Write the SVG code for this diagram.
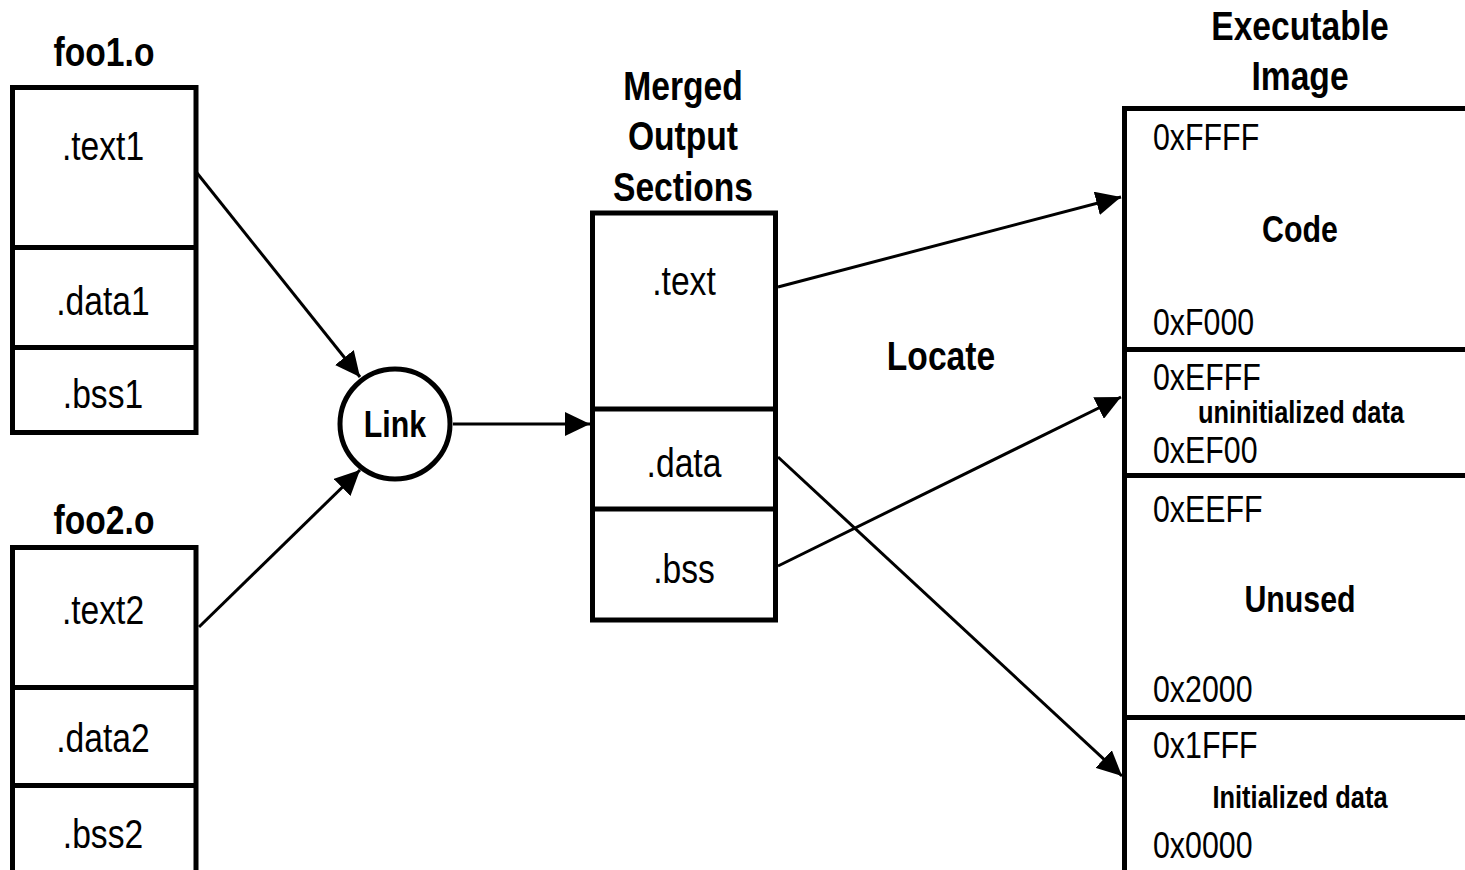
<svg xmlns="http://www.w3.org/2000/svg" width="1465" height="870" viewBox="0 0 1465 870">
<style>
  .box{fill:#fff;stroke:#000;stroke-width:5}
  .div{stroke:#000;stroke-width:5}
  .t{font-family:"Liberation Sans",Arial,sans-serif;fill:#000}
  .sec{font-size:41px;text-anchor:middle}
  .ttl{font-size:41px;font-weight:bold;text-anchor:middle}
  .addr{font-size:37px}
  .lbl{font-size:37px;font-weight:bold;text-anchor:middle}
  .sm{font-size:31px;font-weight:bold;text-anchor:middle}
  .conn{stroke:#000;stroke-width:3;fill:none;marker-end:url(#ah)}
</style>
<defs>
  <marker id="ah" markerUnits="userSpaceOnUse" markerWidth="26" markerHeight="24" refX="25" refY="12" orient="auto">
    <path d="M0,0 L25,12 L0,24 z" fill="#000"/>
  </marker>
</defs>
<rect width="1465" height="870" fill="#fff"/>

<g id="connectors">
  <line class="conn" x1="193" y1="168" x2="360" y2="377"/>
  <line class="conn" x1="199" y1="627" x2="360" y2="470"/>
  <line class="conn" x1="453" y1="424" x2="590" y2="424"/>
  <line class="conn" x1="778" y1="287" x2="1121" y2="197"/>
  <line class="conn" x1="778" y1="566" x2="1121" y2="397"/>
  <line class="conn" x1="778" y1="457" x2="1122" y2="776"/>
</g>

<g id="foo1">
  <text class="t ttl" transform="translate(104,66) scale(0.82,1)">foo1.o</text>
  <rect class="box" x="12.5" y="87.5" width="183.5" height="345"/>
  <line class="div" x1="12.5" y1="247.5" x2="196" y2="247.5"/>
  <line class="div" x1="12.5" y1="347.5" x2="196" y2="347.5"/>
  <text class="t sec" transform="translate(103,160) scale(0.82,1)">.text1</text>
  <text class="t sec" transform="translate(103,315) scale(0.82,1)">.data1</text>
  <text class="t sec" transform="translate(103,408) scale(0.82,1)">.bss1</text>
</g>

<g id="foo2">
  <text class="t ttl" transform="translate(104,534) scale(0.82,1)">foo2.o</text>
  <rect class="box" x="12.5" y="547.5" width="183.5" height="400"/>
  <line class="div" x1="12.5" y1="687.5" x2="196" y2="687.5"/>
  <line class="div" x1="12.5" y1="785.5" x2="196" y2="785.5"/>
  <text class="t sec" transform="translate(103,624) scale(0.82,1)">.text2</text>
  <text class="t sec" transform="translate(103,752) scale(0.82,1)">.data2</text>
  <text class="t sec" transform="translate(103,848) scale(0.82,1)">.bss2</text>
</g>

<g id="link">
  <circle cx="395" cy="424" r="55" fill="#fff" stroke="#000" stroke-width="5"/>
  <text class="t lbl" transform="translate(395,437) scale(0.82,1)">Link</text>
</g>

<g id="merged">
  <text class="t ttl" transform="translate(683,100) scale(0.82,1)">Merged</text>
  <text class="t ttl" transform="translate(683,150) scale(0.82,1)">Output</text>
  <text class="t ttl" transform="translate(683,201) scale(0.82,1)">Sections</text>
  <rect class="box" x="592.5" y="213" width="183" height="407"/>
  <line class="div" x1="592.5" y1="409" x2="775.5" y2="409"/>
  <line class="div" x1="592.5" y1="509" x2="775.5" y2="509"/>
  <text class="t sec" transform="translate(684,295) scale(0.82,1)">.text</text>
  <text class="t sec" transform="translate(684,477) scale(0.82,1)">.data</text>
  <text class="t sec" transform="translate(684,583) scale(0.82,1)">.bss</text>
</g>

<g id="locate">
  <text class="t ttl" transform="translate(941,370) scale(0.82,1)">Locate</text>
</g>

<g id="executable">
  <text class="t ttl" transform="translate(1300,40) scale(0.82,1)">Executable</text>
  <text class="t ttl" transform="translate(1300,90) scale(0.82,1)">Image</text>
  <rect class="box" x="1124.5" y="108.5" width="400" height="800"/>
  <line class="div" x1="1124.5" y1="349.5" x2="1465" y2="349.5"/>
  <line class="div" x1="1124.5" y1="475.5" x2="1465" y2="475.5"/>
  <line class="div" x1="1124.5" y1="717.5" x2="1465" y2="717.5"/>
  <text class="t addr" transform="translate(1153,150) scale(0.82,1)">0xFFFF</text>
  <text class="t lbl" transform="translate(1300,242) scale(0.82,1)">Code</text>
  <text class="t addr" transform="translate(1153,335) scale(0.82,1)">0xF000</text>
  <text class="t addr" transform="translate(1153,390) scale(0.82,1)">0xEFFF</text>
  <text class="t sm" transform="translate(1301,423) scale(0.82,1)">uninitialized data</text>
  <text class="t addr" transform="translate(1153,463) scale(0.82,1)">0xEF00</text>
  <text class="t addr" transform="translate(1153,522) scale(0.82,1)">0xEEFF</text>
  <text class="t lbl" transform="translate(1300,612) scale(0.82,1)">Unused</text>
  <text class="t addr" transform="translate(1153,702) scale(0.82,1)">0x2000</text>
  <text class="t addr" transform="translate(1153,758) scale(0.82,1)">0x1FFF</text>
  <text class="t sm" transform="translate(1300,808) scale(0.82,1)">Initialized data</text>
  <text class="t addr" transform="translate(1153,858) scale(0.82,1)">0x0000</text>
</g>
</svg>
